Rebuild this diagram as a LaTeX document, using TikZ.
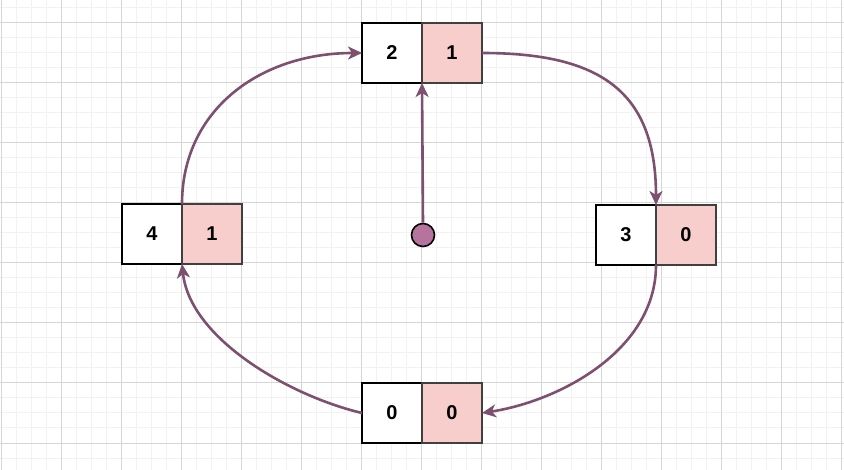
\documentclass[tikz,border=0pt]{standalone}
\usepackage{fontspec}
\setmainfont{Liberation Sans}
\usepackage{xcolor}
\usepackage{tikz}
\usetikzlibrary{arrows.meta}
\definecolor{prune}{RGB}{125,80,112}
\definecolor{mauve}{RGB}{181,115,157}
\definecolor{rose}{RGB}{248,206,204}
\definecolor{grillefine}{RGB}{242,242,242}
\definecolor{grille}{RGB}{214,214,214}

\begin{document}
\begin{tikzpicture}[x=1pt, y=-1pt,
    every node/.style={font=\fontsize{20}{20}\selectfont\bfseries},
    case/.style={draw=black, line width=1.6pt, fill=white, minimum size=60pt, inner sep=0pt, outer sep=0pt},
    caserose/.style={case, draw=black!75, fill=rose},
    fleche/.style={prune, line width=2.6pt, -{Stealth[length=14pt,width=13pt,inset=4pt]}}]
    \useasboundingbox (0,0) rectangle (844,470);
    \fill[white] (0,0) rectangle (844,470);
    % grille
    \foreach \x in {1,16,...,844} \draw[grillefine, line width=1pt] (\x,0) -- (\x,470);
    \foreach \y in {8,23,...,470} \draw[grillefine, line width=1pt] (0,\y) -- (844,\y);
    \foreach \x in {1,61,...,844} \draw[grille, line width=1pt] (\x,0) -- (\x,470);
    \foreach \y in {23,83,...,470} \draw[grille, line width=1pt] (0,\y) -- (844,\y);
    % cases
    \node[case]     (h1) at (392,53)  {2};
    \node[caserose] (h2) at (452,53)  {1};
    \node[case]     (g1) at (152,234) {4};
    \node[caserose] (g2) at (212,234) {1};
    \node[case]     (d1) at (626,235) {3};
    \node[caserose] (d2) at (686,235) {0};
    \node[case]     (b1) at (392,413) {0};
    \node[caserose] (b2) at (452,413) {0};
    \node[circle, draw=black, line width=1.6pt, fill=mauve, minimum size=23pt, inner sep=0pt] (centre) at (423,235) {};
    % fleches
    \draw[fleche] (centre.north) -- (h1.south east);
    \draw[fleche] (g1.north east) .. controls +(0,-94) and +(-102,0) .. (h1.west);
    \draw[fleche] (h2.east) .. controls +(118,0) and +(0,-114) .. (d1.north east);
    \draw[fleche] (d1.south east) .. controls +(0,85) and +(78,-12) .. (b2.east);
    \draw[fleche] (b1.west) .. controls +(-72,-17) and +(8,75) .. (g1.south east);
\end{tikzpicture}
\end{document}
